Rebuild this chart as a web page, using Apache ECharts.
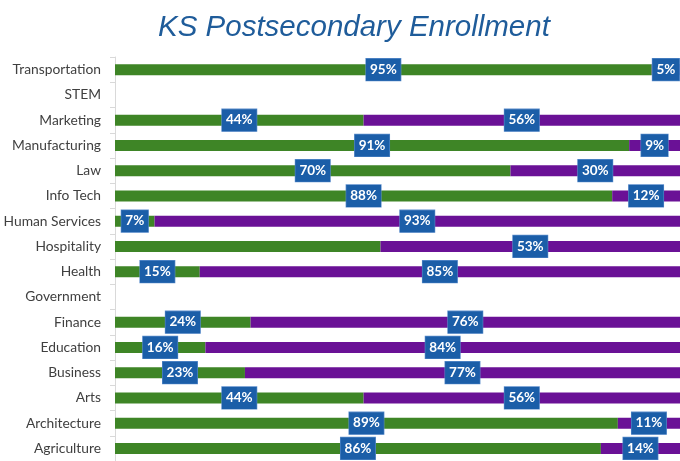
<!DOCTYPE html>
<html>
<head>
<meta charset="utf-8">
<script src="https://cdn.jsdelivr.net/npm/echarts@6/dist/echarts.min.js"></script>
<style>
html, body { margin: 0; padding: 0; background: #fff; }
#chart { width: 680px; height: 461px; }
</style>
</head>
<body>
<div id="chart"></div>
<script>
// categories, bottom to top as ECharts draws them
var categories = ['Agriculture', 'Architecture', 'Arts', 'Business', 'Education', 'Finance',
  'Government', 'Health', 'Hospitality', 'Human Services', 'Info Tech', 'Law',
  'Manufacturing', 'Marketing', 'STEM', 'Transportation'];

// percent share of each program (null = no data)
var greenVals  = [86, 89, 44, 23, 16, 24, null, 15, 47, 7, 88, 70, 91, 44, null, 95];
var purpleVals = [14, 11, 56, 77, 84, 76, null, 85, 53, 93, 12, 30, 9, 56, null, 5];

// labels the original leaves off
var hideGreenLabel = ['Hospitality'];

var labelStyle = {
    show: true,
    position: 'inside',
    formatter: function (p) { return p.value + '%'; },
    color: '#fff',
    fontFamily: 'Lato',
    fontWeight: 'bold',
    fontSize: 13.5,
    lineHeight: 14,
    backgroundColor: '#1B5EA8',
    borderColor: '#5a8ccb',
    borderWidth: 0.6,
    padding: [4, 4, 4, 4]
};

var greenData = greenVals.map(function (v, i) {
    if (v === null) return '-';
    if (hideGreenLabel.indexOf(categories[i]) >= 0) return { value: v, label: { show: false } };
    return v;
});
var purpleData = purpleVals.map(function (v) { return v === null ? '-' : v; });

var myChart = echarts.init(document.getElementById('chart'));

var option = {
    animation: false,
    title: {
        text: 'KS Postsecondary Enrollment',
        left: 153,
        top: 8,
        textStyle: {
            color: '#1F5C9A',
            fontFamily: 'Liberation Sans',
            fontStyle: 'italic',
            fontWeight: 'normal',
            fontSize: 29.5
        }
    },
    grid: { left: 115, right: 0, top: 57, height: 407 },
    xAxis: { type: 'value', min: 0, max: 100, show: false },
    yAxis: {
        type: 'category',
        data: categories,
        axisLine: { lineStyle: { color: '#d9d9d9' } },
        axisTick: { show: true, length: 5, lineStyle: { color: '#d9d9d9' } },
        axisLabel: { color: '#404040', fontFamily: 'Lato', fontSize: 13.8, margin: 14 }
    },
    series: [{
        name: 'green',
        type: 'bar',
        stack: 'total',
        barWidth: 11,
        itemStyle: { color: '#3E8526' },
        label: labelStyle,
        data: greenData
    }, {
        name: 'purple',
        type: 'bar',
        stack: 'total',
        barWidth: 11,
        itemStyle: { color: '#6A1196' },
        label: labelStyle,
        data: purpleData
    }]
};

myChart.setOption(option);
</script>
</body>
</html>
